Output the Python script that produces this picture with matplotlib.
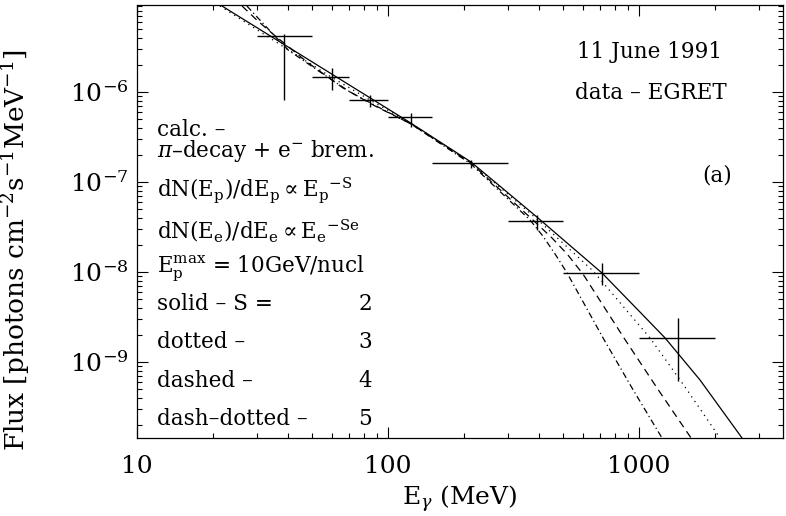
import numpy as np
import matplotlib
matplotlib.use("Agg")
from matplotlib import pyplot as plt
from matplotlib.ticker import LogLocator, LogFormatterMathtext, NullFormatter

plt.rcParams['font.family'] = ['DejaVu Serif', 'DejaVu Sans']
plt.rcParams['mathtext.fontset'] = 'dejavuserif'

# EGRET data, 11 June 1991
e_lo = [30, 50, 70, 100, 150, 300, 500, 1000]
e_hi = [50, 70, 100, 150, 300, 500, 1000, 2000]
e_mid = [38.5, 59.8, 84.7, 123.5, 214, 393, 713, 1429]
flux = [4.19e-6, 1.47e-6, 8.15e-7, 5.27e-7, 1.63e-7, 3.69e-8, 9.75e-9, 1.85e-9]
flux_up = [4.40e-6, 1.85e-6, 9.26e-7, 5.84e-7, 1.75e-7, 4.30e-8, 1.26e-8, 3.08e-9]
flux_dn = [8.15e-7, 1.05e-6, 6.81e-7, 4.08e-7, 1.43e-7, 2.93e-8, 7.17e-9, 6.15e-10]

# model curves (pi-decay + e- brem)
e_s2 = [21.8, 38.5, 59.8, 84.8, 123.5, 214, 392, 712, 1009, 1270, 1750, 2573]
f_s2 = [9.03e-6, 3.38e-6, 1.577e-6, 8.62e-7, 4.50e-7, 1.67e-7, 4.08e-8,
        9.75e-9, 3.59e-9, 1.85e-9, 6.31e-10, 1.43e-10]
e_s3 = [21.4, 38.5, 59.8, 84.8, 123.5, 214, 392, 656, 1106, 1525, 2102]
f_s3 = [9.03e-6, 3.16e-6, 1.449e-6, 8.15e-7, 4.47e-7, 1.647e-7, 3.88e-8,
        1.026e-8, 1.85e-9, 5.28e-10, 1.43e-10]
e_s4 = [26.2, 30.3, 34.8, 47.6, 66.2, 88.8, 123.5, 214, 378, 450, 517, 598,
        871, 1180, 1612]
f_s4 = [9.03e-6, 6.15e-6, 4.41e-6, 2.15e-6, 1.108e-6, 6.99e-7, 4.41e-7, 1.626e-7,
        3.78e-8, 2.39e-8, 1.585e-8, 9.50e-9, 1.85e-9, 5.14e-10, 1.43e-10]
e_s5 = [27.4, 34.5, 40.0, 53.6, 70.6, 92.9, 123.5, 214, 368, 414, 463, 517,
        719, 938, 1235]
f_s5 = [9.03e-6, 4.52e-6, 2.93e-6, 1.67e-6, 1.0e-6, 6.64e-7, 4.41e-7, 1.585e-7,
        3.78e-8, 2.51e-8, 1.585e-8, 9.75e-9, 1.85e-9, 5.14e-10, 1.43e-10]

fig = plt.figure(figsize=(7.86, 5.16), dpi=100)
ax = fig.add_axes([137/786, 1 - 438/516, 646/786, 433/516])
ax.set_xscale('log')
ax.set_yscale('log')

lw = 0.9
ax.plot(e_s2, f_s2, color='black', lw=lw, ls='-')
ax.plot(e_s3, f_s3, color='black', lw=lw, ls=(0, (1, 3.5)))
ax.plot(e_s4, f_s4, color='black', lw=lw, ls=(0, (6, 4)))
ax.plot(e_s5, f_s5, color='black', lw=lw, ls=(0, (5, 2.5, 1, 2.5)))

e_mid = np.array(e_mid)
flux = np.array(flux)
xerr = [e_mid - np.array(e_lo), np.array(e_hi) - e_mid]
yerr = [flux - np.array(flux_dn), np.array(flux_up) - flux]
ax.errorbar(e_mid, flux, xerr=xerr, yerr=yerr, fmt='none', ecolor='black',
            elinewidth=1.0, capsize=0)

ax.set_xlim(10, 3747)
ax.set_ylim(1.43e-10, 9.26e-6)

ax.xaxis.set_major_locator(LogLocator(base=10))
ax.xaxis.set_minor_locator(LogLocator(base=10, subs=np.arange(2, 10)))
ax.yaxis.set_minor_locator(LogLocator(base=10, subs=np.arange(2, 10)))
ax.xaxis.set_minor_formatter(NullFormatter())
ax.yaxis.set_minor_formatter(NullFormatter())
ax.xaxis.set_major_formatter(plt.FuncFormatter(lambda v, p: '%d' % round(v)))
ax.yaxis.set_major_formatter(LogFormatterMathtext())

ax.tick_params(which='both', direction='in', top=True, right=True,
               width=0.8, labelsize=18)
ax.tick_params(which='major', length=8)
ax.tick_params(which='minor', length=3.5)
ax.tick_params(axis='x', which='major', pad=12)
ax.tick_params(axis='y', which='major', pad=6)
for s in ax.spines.values():
    s.set_linewidth(0.9)

ax.set_xlabel(r'E$_\gamma$ (MeV)', fontsize=18, labelpad=4)
ax.set_ylabel(r'Flux [photons cm$^{-2}$s$^{-1}$MeV$^{-1}$]', fontsize=19)
ax.yaxis.set_label_coords(-0.162, 0.434)

fs = 15.5
ax.text(0.681, 0.891, '11 June 1991', transform=ax.transAxes, fontsize=fs,
        va='center')
ax.text(0.678, 0.797, 'data \u2013 EGRET', transform=ax.transAxes, fontsize=fs,
        va='center')
ax.text(0.898, 0.607, '(a)', transform=ax.transAxes, fontsize=fs,
        va='center', ha='center')

left = 0.031
lines = [
    (0.712, 'calc. \u2013'),
    (0.662, '$\\pi$\u2013decay + e$^{-}$ brem.'),
    (0.573, r'dN(E$_\mathrm{p}$)/dE$_\mathrm{p}$$\propto$E$_\mathrm{p}$$^{-\mathrm{S}}$'),
    (0.480, r'dN(E$_\mathrm{e}$)/dE$_\mathrm{e}$$\propto$E$_\mathrm{e}$$^{-\mathrm{Se}}$'),
    (0.393, r'E$_\mathrm{p}^\mathrm{max}$ = 10GeV/nucl'),
]
for y, t in lines:
    ax.text(left, y, t, transform=ax.transAxes, fontsize=fs, va='center')

styles = ['solid \u2013 S =', 'dotted \u2013', 'dashed \u2013', 'dash\u2013dotted \u2013']
slopes = ['2', '3', '4', '5']
ys = [0.309, 0.222, 0.132, 0.044]
for y, t, n in zip(ys, styles, slopes):
    ax.text(left, y, t, transform=ax.transAxes, fontsize=fs, va='center')
    ax.text(0.353, y, n, transform=ax.transAxes, fontsize=fs, va='center',
            ha='center')

fig.savefig('out.png', dpi=100)
